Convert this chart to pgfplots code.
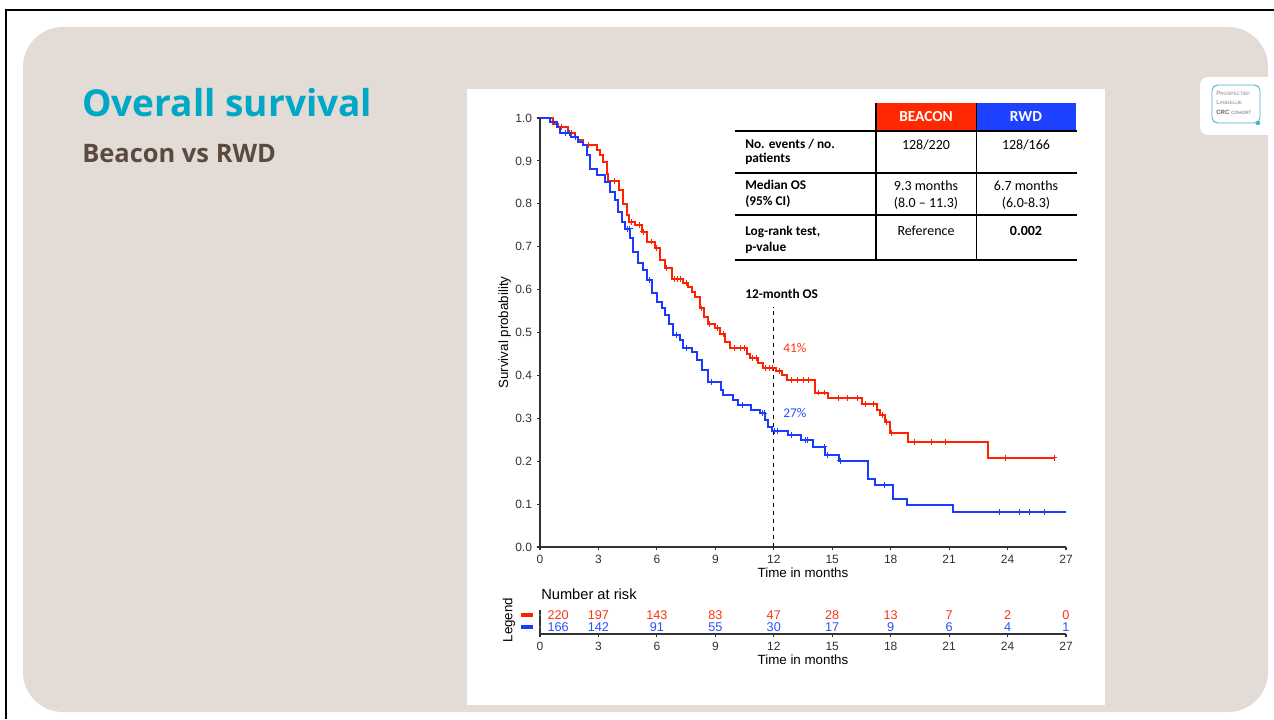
\documentclass[border=0pt]{standalone}
\usepackage{pgfplots}
\pgfplotsset{compat=1.18}
\usepackage{pgfplotstable}
\usepackage{fontspec}
\setmainfont{Liberation Sans}
\newfontfamily\carlito{Carlito}
\newfontfamily\opensans{Open Sans}
\definecolor{kmred}{RGB}{255,34,0}
\definecolor{kmblue}{RGB}{26,58,255}
\definecolor{hdrred}{RGB}{255,40,0}
\definecolor{hdrblue}{RGB}{30,64,255}
\definecolor{beige}{RGB}{226,219,214}
\definecolor{tealt}{RGB}{0,168,198}
\definecolor{logoteal}{RGB}{60,180,200}
\definecolor{brownt}{RGB}{92,74,63}
\definecolor{axgray}{RGB}{50,50,50}
\definecolor{txtred}{RGB}{255,50,20}
\definecolor{txtblue}{RGB}{40,80,255}

\pgfplotstableread{
t S
0 1.000
0.67 0.987
0.93 0.979
1.45 0.966
1.8 0.956
1.96 0.949
2.2 0.937
2.95 0.925
3.08 0.913
3.25 0.897
3.42 0.870
3.5 0.853
4.05 0.832
4.28 0.800
4.45 0.773
4.55 0.758
4.9 0.751
5.22 0.735
5.48 0.712
5.9 0.696
6.16 0.669
6.4 0.650
6.76 0.624
7.36 0.615
7.61 0.607
7.79 0.595
7.96 0.583
8.21 0.556
8.4 0.535
8.6 0.520
9.0 0.510
9.24 0.497
9.5 0.479
9.75 0.463
10.65 0.450
10.8 0.440
11.2 0.428
11.46 0.417
12.1 0.410
12.4 0.402
12.66 0.390
14.1 0.360
14.8 0.347
16.55 0.333
17.3 0.320
17.45 0.308
17.71 0.292
17.97 0.265
18.9 0.245
23.0 0.208
26.4 0.208
}\redkm

\pgfplotstableread{
t S
1.1 0.979
1.6 0.966
2.5 0.937
3.8 0.853
4.7 0.758
5.1 0.751
5.3 0.735
5.7 0.712
6.0 0.696
6.5 0.650
6.9 0.624
7.05 0.624
7.2 0.624
7.5 0.615
8.3 0.556
8.7 0.520
9.1 0.510
9.4 0.497
10.0 0.463
10.3 0.463
10.5 0.463
10.9 0.440
11.1 0.440
11.55 0.417
11.75 0.417
11.95 0.417
12.3 0.410
12.9 0.390
13.2 0.390
13.5 0.390
13.8 0.390
14.3 0.360
14.6 0.360
15.3 0.347
15.8 0.347
16.3 0.347
16.7 0.333
17.1 0.333
17.55 0.308
17.8 0.292
18.05 0.265
19.2 0.245
20.1 0.245
20.8 0.245
23.9 0.208
26.4 0.208
}\redcens

\pgfplotstableread{
t S
0 1.000
0.51 0.991
0.86 0.979
1.03 0.966
1.6 0.956
1.97 0.944
2.2 0.936
2.4 0.913
2.57 0.882
2.95 0.866
3.34 0.851
3.59 0.828
3.85 0.808
4.02 0.781
4.19 0.758
4.36 0.742
4.62 0.720
4.79 0.688
5.05 0.661
5.3 0.646
5.48 0.622
5.73 0.591
5.99 0.572
6.25 0.556
6.4 0.540
6.6 0.520
6.84 0.494
7.19 0.483
7.36 0.463
7.79 0.455
8.04 0.436
8.3 0.413
8.6 0.385
9.3 0.365
9.41 0.354
9.92 0.343
10.18 0.331
10.85 0.319
11.29 0.312
11.55 0.296
11.72 0.280
11.89 0.270
12.75 0.261
13.4 0.249
14.0 0.234
14.63 0.214
15.35 0.201
16.85 0.158
17.2 0.144
18.14 0.112
18.82 0.098
21.18 0.081
27.0 0.081
}\bluekm

\pgfplotstableread{
t S
1.3 0.966
1.5 0.966
1.8 0.956
4.5 0.742
4.6 0.742
5.6 0.622
7.0 0.494
7.5 0.463
8.8 0.385
10.4 0.331
11.4 0.312
11.5 0.312
12.05 0.270
12.2 0.270
12.9 0.261
13.6 0.249
13.75 0.249
14.6 0.234
14.75 0.214
15.4 0.201
17.7 0.144
23.6 0.081
24.6 0.081
25.1 0.081
25.9 0.081
}\bluecens

\pgfplotstableread{
t y n
3 0.79 197
6 0.79 143
9 0.79 83
12 0.79 47
15 0.79 28
18 0.79 13
21 0.79 7
24 0.79 2
27 0.79 0
}\riskred

\pgfplotstableread{
t y n
3 0.29 142
6 0.29 91
9 0.29 55
12 0.29 30
15 0.29 17
18 0.29 9
21 0.29 6
24 0.29 4
27 0.29 1
}\riskblue

\pgfplotstableread{
t y n
0 0.79 220
}\riskredzero

\pgfplotstableread{
t y n
0 0.29 166
}\riskbluezero

\pgfplotsset{risklabels/.style={only marks, mark=*, mark size=0.1pt,
  mark options={draw=white, fill=white},
  nodes near coords, point meta=explicit symbolic}}

\begin{document}
\begin{tikzpicture}
\begin{scope}[x=0.75pt,y=0.75pt]
\useasboundingbox (0,0) rectangle (1274,719);
% slide background
\fill[white] (0,0) rectangle (1274,719);
\draw[black,line width=1.2pt] (6,0) -- (6,709) -- (1274,709);
\fill[beige, rounded corners=30pt] (23,7) rectangle (1268,692);
\fill[white] (467,14) rectangle (1105,630);
% logo
\begin{scope}
\clip (0,0) rectangle (1274,719);
\fill[white, rounded corners=6pt] (1200,642) rectangle (1285,584);
\end{scope}
\draw[logoteal, line width=0.6pt, rounded corners=4pt] (1212,634) rectangle (1260,596);
\fill[logoteal] (1258,596) circle (2.2);
\node[anchor=base west, inner sep=0, text=gray] at (1216,623) {\fontsize{4.6}{5}\selectfont P\fontsize{3.5}{4}\selectfont ROSPECTIEF};
\node[anchor=base west, inner sep=0, text=gray] at (1216,614) {\fontsize{4.6}{5}\selectfont L\fontsize{3.5}{4}\selectfont ANDELIJK};
\node[anchor=base west, inner sep=0, text=gray!80!black] at (1216,604) {\fontsize{4.6}{5}\selectfont\bfseries CRC \fontsize{3.5}{4}\selectfont\mdseries COHORT};
% titles
\node[anchor=base west, inner sep=0, text=tealt] at (82,602) {\opensans\bfseries\fontsize{27.8}{30}\selectfont Overall survival};
\node[anchor=base west, inner sep=0, text=brownt] at (82,556) {\opensans\bfseries\fontsize{19.1}{22}\selectfont Beacon vs RWD};
% table
\fill[hdrred] (876,616) rectangle (976,588);
\fill[hdrblue] (977,616) rectangle (1076,588);
\foreach \yy in {588,546,504,459} {\draw[black,line width=1pt] (735,\yy) -- (1077,\yy);}
\draw[black,line width=1pt] (876,616) -- (876,459);
\draw[black,line width=1pt] (976.5,616) -- (976.5,459);
\begin{scope}[every node/.style={inner sep=0, font=\carlito\fontsize{10.5}{12}\selectfont}]
\node[text=white, anchor=mid] at (926,601) {\bfseries\fontsize{11.5}{13}\selectfont BEACON};
\node[text=white, anchor=mid] at (1026,601) {\bfseries\fontsize{11.5}{13}\selectfont RWD};
\node[anchor=mid west] at (745,574) {\bfseries\fontsize{10}{12}\selectfont No. events / no.};
\node[anchor=mid west] at (745,560) {\bfseries\fontsize{10}{12}\selectfont patients};
\node[anchor=mid] at (926,573) {128/220};
\node[anchor=mid] at (1026,573) {128/166};
\node[anchor=mid west] at (745,533) {\bfseries\fontsize{10}{12}\selectfont Median OS};
\node[anchor=mid west] at (745,517) {\bfseries\fontsize{10}{12}\selectfont (95\% CI)};
\node[anchor=mid] at (926,532) {9.3 months};
\node[anchor=mid] at (926,515) {(8.0 – 11.3)};
\node[anchor=mid] at (1026,532) {6.7 months};
\node[anchor=mid] at (1026,515) {(6.0-8.3)};
\node[anchor=mid west] at (745,487) {\bfseries\fontsize{10}{12}\selectfont Log-rank test,};
\node[anchor=mid west] at (745,471) {\bfseries\fontsize{10}{12}\selectfont p-value};
\node[anchor=mid] at (926,487) {Reference};
\node[anchor=mid] at (1026,487) {\bfseries 0.002};
\node[anchor=mid west] at (745,424) {\bfseries\fontsize{10}{12}\selectfont 12-month OS};
\node[anchor=mid west, text=txtred] at (783,370) {\fontsize{10}{12}\selectfont 41\%};
\node[anchor=mid west, text=txtblue] at (783,305) {\fontsize{10}{12}\selectfont 27\%};
\end{scope}
% risk table decorations
\node[anchor=mid west, inner sep=0, font=\fontsize{11}{13}\selectfont] at (541,123) {Number at risk};
\node[rotate=90, inner sep=0, font=\fontsize{10}{12}\selectfont] at (509,99) {Legend};
\fill[kmred] (521,106) rectangle (533,102);
\fill[kmblue] (521,94) rectangle (533,90);
\end{scope}

\begin{axis}[
  at={(405pt,129pt)}, anchor=south west,
  scale only axis, width=394.5pt, height=321.75pt,
  xmin=0, xmax=27, ymin=0, ymax=1,
  axis lines=left, axis line style={-, axgray, line width=1pt},
  xtick={0,3,6,9,12,15,18,21,24,27},
  ytick={0,0.1,0.2,0.3,0.4,0.5,0.6,0.7,0.8,0.9,1.0},
  tick align=outside, major tick length=2.5pt, tick style={axgray, line width=0.8pt},
  yticklabel style={/pgf/number format/.cd, fixed, fixed zerofill, precision=1},
  /pgf/number format/assume math mode=true,
  ticklabel style={font=\fontsize{9}{10}\selectfont, text=axgray},
  xlabel={Time in months}, ylabel={Survival probability},
  label style={font=\fontsize{10}{12}\selectfont, text=black},
  xlabel style={at={(axis description cs:0.5,-0.061)}, anchor=center},
  ylabel style={at={(axis description cs:-0.067,0.5)}, anchor=center},
  clip=false,
]
\addplot[black, dashed, line width=0.6pt] coordinates {(12,0) (12,0.56)};
\addplot[const plot, kmred, line width=1.5pt] table[x=t,y=S] {\redkm};
\addplot[only marks, mark=+, mark size=2.2pt, kmred, mark options={line width=0.6pt}] table[x=t,y=S] {\redcens};
\addplot[const plot, kmblue, line width=1.5pt] table[x=t,y=S] {\bluekm};
\addplot[only marks, mark=+, mark size=2.2pt, kmblue, mark options={line width=0.6pt}] table[x=t,y=S] {\bluecens};
\end{axis}

\begin{axis}[
  at={(405pt,63.75pt)}, anchor=south west,
  scale only axis, width=394.5pt, height=18pt,
  xmin=0, xmax=27, ymin=0, ymax=1,
  axis lines=left, axis line style={-, axgray, line width=1pt},
  xtick={0,3,6,9,12,15,18,21,24,27}, ytick=\empty,
  tick align=outside, major tick length=2.5pt, tick style={axgray, line width=0.8pt},
  /pgf/number format/assume math mode=true,
  ticklabel style={font=\fontsize{9}{10}\selectfont, text=axgray},
  xlabel={Time in months},
  label style={font=\fontsize{10}{12}\selectfont, text=black},
  xlabel style={at={(axis description cs:0.5,-1.08)}, anchor=center},
  clip=false,
]
\addplot[risklabels,
  nodes near coords style={text=txtred, anchor=center, inner sep=0, font=\fontsize{9.5}{11}\selectfont}] table[x=t,y=y,meta=n] {\riskred};
\addplot[risklabels,
  nodes near coords style={text=txtblue, anchor=center, inner sep=0, font=\fontsize{9.5}{11}\selectfont}] table[x=t,y=y,meta=n] {\riskblue};
\addplot[risklabels,
  nodes near coords style={text=txtred, anchor=west, xshift=5.5pt, inner sep=0, font=\fontsize{9.5}{11}\selectfont}] table[x=t,y=y,meta=n] {\riskredzero};
\addplot[risklabels,
  nodes near coords style={text=txtblue, anchor=west, xshift=5.5pt, inner sep=0, font=\fontsize{9.5}{11}\selectfont}] table[x=t,y=y,meta=n] {\riskbluezero};
\end{axis}
\end{tikzpicture}
\end{document}
